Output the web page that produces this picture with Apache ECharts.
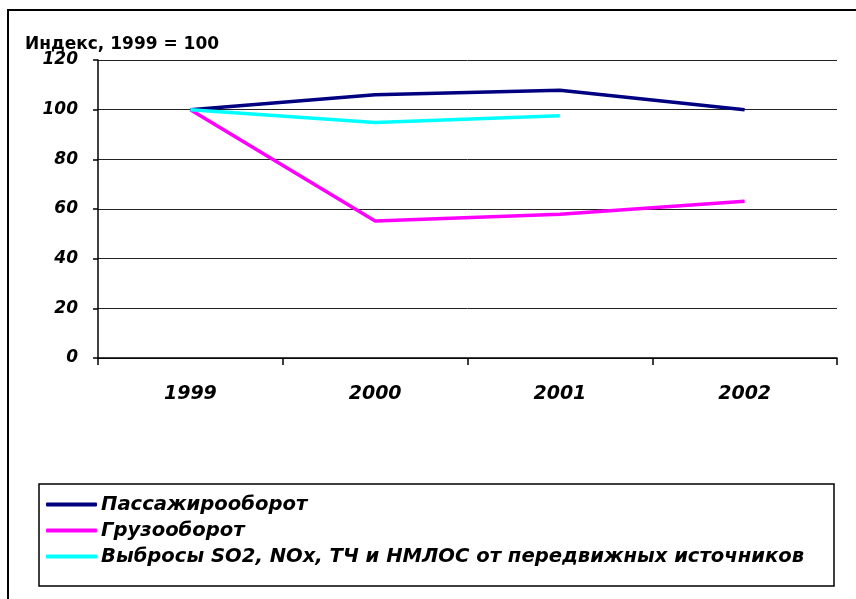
<!DOCTYPE html>
<html>
<head>
<meta charset="utf-8">
<script src="https://cdn.jsdelivr.net/npm/echarts@6/dist/echarts.min.js"></script>
<style>
html, body { margin: 0; padding: 0; background: #ffffff; }
#chart { width: 856px; height: 599px; }
</style>
</head>
<body>
<div id="chart"></div>
<script>
// данные
var years = ['1999', '2000', '2001', '2002'];
var yTicks = [0, 20, 40, 60, 80, 100, 120];
var passenger = [100, 106, 107.8, 100];
var freight = [100, 55.2, 57.9, 63.1];
var emissions = [100, 94.8, 97.6, null];
var seriesNames = ['Пассажирооборот', 'Грузооборот', 'Выбросы SO2, NOx, ТЧ и НМЛОС от передвижных источников'];

var font = '"DejaVu Sans", sans-serif';

var myChart = echarts.init(document.getElementById('chart'));
myChart.setOption({
    animation: false,
    backgroundColor: '#ffffff',
    title: {
        text: 'Индекс, 1999 = 100',
        left: 20,
        top: 31,
        textStyle: { fontFamily: font, fontSize: 17, fontWeight: 'bold', color: '#000' }
    },
    graphic: [
        { type: 'rect', shape: { x: 8, y: 10, width: 900, height: 650 },
          style: { fill: 'none', stroke: '#000', lineWidth: 2 }, z: 0 },
        { type: 'rect', shape: { x: 39, y: 484, width: 795, height: 102 },
          style: { fill: 'none', stroke: '#000', lineWidth: 1.5 }, z: 0 }
    ],
    legend: {
        data: seriesNames,
        orient: 'vertical',
        left: 46,
        top: 494,
        padding: 0,
        itemWidth: 51,
        itemHeight: 4,
        itemGap: 5,
        icon: 'roundRect',
        textStyle: { fontFamily: font, fontSize: 19.6, fontWeight: 'bold', fontStyle: 'italic', color: '#000', lineHeight: 21, padding: [0, 0, 0, -1] }
    },
    grid: { left: 98, right: 19, top: 60, bottom: 241, containLabel: false },
    xAxis: {
        type: 'category',
        data: years,
        boundaryGap: true,
        axisLine: { lineStyle: { color: '#000', width: 1.5 } },
        axisTick: { show: true, length: 7, inside: false, lineStyle: { color: '#000', width: 1.5 } },
        axisLabel: { margin: 27, fontFamily: font, fontSize: 19, fontWeight: 'bold', fontStyle: 'italic', color: '#000' },
        splitLine: { show: false }
    },
    yAxis: {
        type: 'value',
        min: yTicks[0],
        max: yTicks[yTicks.length - 1],
        interval: 20,
        axisLine: { show: true, lineStyle: { color: '#000', width: 1.5 } },
        axisTick: { show: true, length: 5, lineStyle: { color: '#000', width: 1.5 } },
        axisLabel: { margin: 20, fontFamily: font, fontSize: 17, fontWeight: 'bold', fontStyle: 'italic', color: '#000' },
        splitLine: { show: true, lineStyle: { color: '#222', width: 1 } }
    },
    series: [
        { name: seriesNames[0], type: 'line', data: passenger, showSymbol: false,
          lineStyle: { color: '#000080', width: 3.5 }, itemStyle: { color: '#000080' } },
        { name: seriesNames[1], type: 'line', data: freight, showSymbol: false,
          lineStyle: { color: '#ff00ff', width: 3.5 }, itemStyle: { color: '#ff00ff' } },
        { name: seriesNames[2], type: 'line', data: emissions, showSymbol: false,
          lineStyle: { color: '#00ffff', width: 3.5 }, itemStyle: { color: '#00ffff' } }
    ]
});
</script>
</body>
</html>
